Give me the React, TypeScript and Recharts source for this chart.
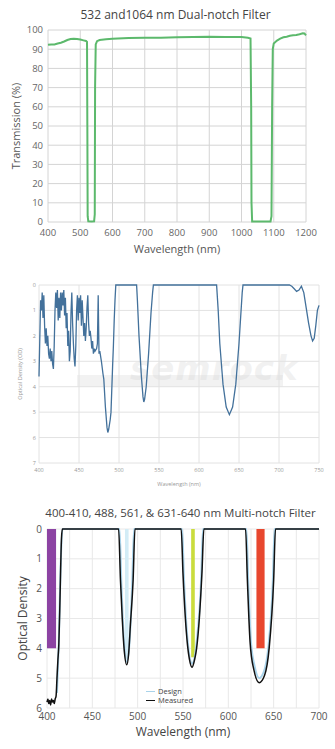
import React from 'react';
import { LineChart, Line, XAxis, YAxis, CartesianGrid, ReferenceArea, Legend } from 'recharts';

const FONT = '"Open Sans", "DejaVu Sans", Arial, sans-serif';

// ---------- Chart 1: 532 and 1064 nm dual-notch filter ----------
const dualWavelength = [400, 410, 420, 430, 440, 450, 460, 470, 480, 490, 500, 510, 518, 521, 522, 523, 525, 535, 543, 545, 546, 548, 552, 560, 580, 600, 650, 700, 750, 800, 850, 900, 950, 1000, 1020, 1028, 1030, 1031, 1033, 1060, 1090, 1093, 1095, 1097, 1100, 1110, 1120, 1130, 1140, 1150, 1160, 1170, 1180, 1190, 1195, 1200];
const dualTransmission = [92.3, 92.5, 92.5, 93.0, 93.4, 94.0, 94.8, 95.3, 95.5, 95.3, 95.0, 94.6, 94.3, 93.8, 50, 3, 0.3, 0.2, 0.3, 4, 70, 92.5, 94.2, 94.8, 95.2, 95.5, 95.8, 96.0, 95.9, 96.2, 96.3, 96.5, 96.4, 96.3, 96.0, 95.6, 60, 10, 0.3, 0.2, 0.3, 3, 60, 90, 93, 94.5, 95.5, 96.2, 96.5, 97.0, 97.3, 97.4, 97.8, 98.3, 98.2, 97.2];
const dualXTicks = [400, 500, 600, 700, 800, 900, 1000, 1100, 1200];
const dualYTicks = [0, 10, 20, 30, 40, 50, 60, 70, 80, 90, 100];

// ---------- Chart 2: optical density spectrum ----------
const odWavelength = [400, 401, 402, 403, 404, 405, 406, 407, 408, 409, 410, 411, 412, 413, 414, 415, 416, 417, 418, 419, 420, 421, 422, 423, 424, 425, 426, 427, 428, 429, 430, 431, 432, 433, 434, 435, 436, 437, 438, 439, 440, 441, 442, 443, 444, 445, 446, 447, 448, 449, 450, 451, 452, 453, 454, 455, 456, 457, 458, 459, 460, 461, 462, 463, 464, 465, 466, 467, 468, 469, 470, 472, 473, 474, 475, 476, 478, 480, 481, 483, 485, 486, 487, 489, 490, 492, 493, 494, 495, 496, 522, 523, 525, 528, 530, 531, 532, 534, 537, 540, 542, 543, 622, 624, 626, 630, 634, 638, 642, 646, 650, 652, 654, 655, 713, 716, 719, 722, 725, 728, 731, 734, 737, 740, 742, 744, 746, 748, 750];
const odValues = [3.6, 2.1, 0.6, 1.0, 0.3, 1.3, 0.4, 1.6, 2.3, 1.7, 2.4, 2.0, 2.7, 2.9, 2.5, 3.0, 2.6, 3.1, 3.3, 2.4, 1.0, 0.3, 0.9, 0.2, 1.4, 0.5, 1.3, 0.3, 1.0, 0.3, 0.8, 0.2, 1.2, 0.5, 1.7, 1.1, 2.4, 1.8, 3.0, 2.6, 1.1, 0.3, 1.5, 2.3, 2.9, 3.2, 2.4, 1.0, 0.4, 1.4, 0.5, 1.1, 0.4, 1.6, 0.6, 1.3, 2.0, 1.5, 2.2, 1.7, 0.9, 0.4, 1.5, 2.0, 1.8, 2.1, 2.5, 2.2, 2.7, 2.5, 2.6, 2.5, 2.3, 0.4, 2.7, 2.6, 3.0, 3.5, 3.7, 4.8, 5.6, 5.8, 5.7, 5.3, 5.0, 3.2, 2.4, 1.4, 0.6, 0, 0, 0.6, 2.0, 3.6, 4.4, 4.6, 4.5, 4.0, 2.7, 1.1, 0.3, 0, 0, 1.0, 2.3, 3.9, 4.8, 5.1, 4.8, 3.9, 2.3, 1.3, 0.3, 0, 0, 0.05, 0.15, 0.25, 0.2, 0.05, 0.3, 0.9, 1.5, 2.0, 2.2, 2.1, 1.6, 1.0, 0.8];
const odXTicks = [400, 450, 500, 550, 600, 650, 700, 750];
const odYTicks = [0, 1, 2, 3, 4, 5, 6, 7];

// ---------- Chart 3: multi-notch filter ----------
const mnMeasuredWl = [400, 401, 402, 403, 404, 405, 406, 407, 408, 409, 410, 411, 412, 413, 414, 415, 416, 417, 479, 481, 483, 485, 488, 490, 492, 495, 497, 548, 550, 555, 557, 560, 563, 565, 568, 571, 573, 619, 621, 624, 628, 634, 640, 645, 650, 652, 700];
const mnMeasuredOd = [5.8, 5.7, 5.85, 5.75, 5.9, 5.7, 5.8, 5.75, 5.85, 5.7, 5.6, 5.0, 4.4, 3.9, 2.8, 1.4, 0.3, 0, 0, 1.7, 3.0, 4.0, 4.55, 4.2, 3.2, 1.7, 0, 0, 1.5, 3.9, 4.35, 4.63, 4.35, 4.0, 3.0, 1.4, 0, 0, 1.7, 3.8, 4.7, 5.15, 4.9, 4.0, 1.7, 0, 0];
const mnDesignWl = [411, 413, 415, 417, 480, 482, 485, 488, 491, 494, 496, 549, 551, 555, 560, 565, 570, 572, 620, 622, 625, 629, 634, 639, 644, 649, 651, 700];
const mnDesignOd = [5.5, 3.8, 1.3, 0, 0, 1.8, 3.8, 4.45, 3.8, 1.8, 0, 0, 1.6, 3.7, 4.5, 3.8, 1.7, 0, 0, 1.8, 3.8, 4.6, 5.0, 4.8, 4.0, 1.8, 0, 0];
const mnXTicks = [400, 425, 450, 475, 500, 525, 550, 575, 600, 625, 650, 675, 700];
const mnYTicks = [0, 1, 2, 3, 4, 5, 6];
const laserStart = [400, 486, 559, 631];
const laserEnd = [410, 490, 563, 640];
const laserOd = [4, 4.35, 4.3, 4];
const laserColors = ['#8c43a3', '#d3ecf6', '#cadc3c', '#e8472e'];

const dualData = dualWavelength.map((nm, i) => ({ nm, t: dualTransmission[i] }));
const odData = odWavelength.map((nm, i) => ({ nm, od: odValues[i] }));
const mnMeasured = mnMeasuredWl.map((nm, i) => ({ nm, od: mnMeasuredOd[i] }));
const mnDesign = mnDesignWl.map((nm, i) => ({ nm, od: mnDesignOd[i] }));

const yTitle = (text: string, offX: number, fontSize: number, color: string) => (props: any) => {
  const vb = props.viewBox || {};
  const x = vb.x + offX;
  const y = vb.y + vb.height / 2;
  return (
    <text x={x} y={y} transform={`rotate(-90, ${x}, ${y})`} textAnchor="middle" dominantBaseline="central"
      fontSize={fontSize} fill={color} fontFamily={FONT}>{text}</text>
  );
};

const xTitle = (text: string, offY: number, fontSize: number, color: string) => (props: any) => {
  const vb = props.viewBox || {};
  const x = vb.x + vb.width / 2;
  const y = vb.y + offY;
  return (
    <text x={x} y={y} textAnchor="middle" dominantBaseline="central" fontSize={fontSize} fill={color} fontFamily={FONT}>{text}</text>
  );
};

const legendContent = (props: any) => {
  const payload = props.payload || [];
  return (
    <div style={{ fontFamily: FONT, fontSize: 7.5, lineHeight: '9px', color: '#444' }}>
      {payload.map((p: any) => (
        <div key={p.value} style={{ display: 'flex', alignItems: 'center', height: 9 }}>
          <span style={{ display: 'inline-block', width: 9, height: 0, borderTop: `1.5px solid ${p.color}`, marginRight: 3 }} />
          <span>{p.value}</span>
        </div>
      ))}
    </div>
  );
};

export default function App() {
  return (
    <div style={{ position: 'absolute', left: 0, top: 0, width: 335, height: 749, background: '#fff', overflow: 'hidden', fontFamily: FONT }}>
      {/* Chart 1 */}
      <div style={{ position: 'absolute', left: 8, top: 7, width: 335, textAlign: 'center', fontSize: 12, lineHeight: '16px', color: '#444' }}>
        532 and1064 nm Dual-notch Filter
      </div>
      <div style={{ position: 'absolute', left: 0, top: 0 }}>
        <LineChart width={335} height={260} data={dualData} margin={{ top: 30, right: 29, bottom: 0, left: 0 }}>
          <CartesianGrid stroke="#d4d4d4" strokeWidth={1} />
          <XAxis dataKey="nm" type="number" domain={[400, 1200]} ticks={dualXTicks} interval={0}
            tickSize={0} tickMargin={7} axisLine={false} height={38}
            tick={{ fontSize: 9.5, fill: '#666', fontFamily: FONT }}
            label={xTitle('Wavelength (nm)', 26, 11, '#555')} />
          <YAxis type="number" domain={[0, 100]} ticks={dualYTicks} interval={0} width={48}
            tickSize={0} tickMargin={5} axisLine={false}
            tick={{ fontSize: 9.5, fill: '#666', fontFamily: FONT }}
            label={yTitle('Transmission (%)', 15, 11, '#555')} />
          <Line dataKey="t" type="linear" stroke="#5cb96c" strokeWidth={2} dot={false} isAnimationActive={false} />
        </LineChart>
      </div>

      {/* Chart 2 watermark */}
      <div style={{ position: 'absolute', left: 77, top: 375, width: 206, height: 12, background: 'rgba(222,222,222,0.4)' }} />
      <div style={{ position: 'absolute', left: 130, top: 348, fontSize: 34, fontStyle: 'italic', fontWeight: 700, color: 'rgba(215,215,215,0.35)', fontFamily: '"DejaVu Sans", sans-serif', letterSpacing: 1 }}>
        semrock
      </div>
      {/* Chart 2 */}
      <div style={{ position: 'absolute', left: 0, top: 265 }}>
        <LineChart width={335} height={225} data={odData} margin={{ top: 20, right: 16, bottom: 0, left: 0 }}>
          <CartesianGrid stroke="#e2e2e2" strokeWidth={1} />
          <XAxis dataKey="nm" type="number" domain={[400, 750]} ticks={odXTicks} interval={0}
            tickSize={0} tickMargin={5} axisLine={false} height={27}
            tick={{ fontSize: 5.5, fill: '#999', fontFamily: FONT }}
            label={xTitle('Wavelength (nm)', 21, 5.5, '#999')} />
          <YAxis type="number" domain={[0, 7]} reversed ticks={odYTicks} interval={0} width={39}
            tickSize={0} tickMargin={3} axisLine={false}
            tick={{ fontSize: 5.5, fill: '#999', fontFamily: FONT }}
            label={yTitle('Optical Density (OD)', 20, 5.5, '#999')} />
          <Line dataKey="od" type="linear" stroke="#43719b" strokeWidth={1.3} dot={false} isAnimationActive={false} />
        </LineChart>
      </div>

      {/* Chart 3 */}
      <div style={{ position: 'absolute', left: 13, top: 506, width: 335, textAlign: 'center', fontSize: 11.5, lineHeight: '14px', color: '#444' }}>
        400-410, 488, 561, &amp; 631-640 nm Multi-notch Filter
      </div>
      <div style={{ position: 'absolute', left: 0, top: 495 }}>
        <LineChart width={335} height={254} margin={{ top: 34, right: 16, bottom: 0, left: 0 }}>
          <CartesianGrid stroke="#e8e8e8" strokeWidth={1} />
          <XAxis dataKey="nm" type="number" domain={[400, 700]} ticks={mnXTicks} interval={0}
            tickFormatter={(v: number) => (v % 50 === 0 ? String(v) : '')}
            tickSize={0} tickMargin={5} axisLine={false} height={41}
            tick={{ fontSize: 10, fill: '#555', fontFamily: FONT }}
            label={xTitle('Wavelength (nm)', 23, 12, '#444')} />
          <YAxis type="number" domain={[0, 6]} reversed ticks={mnYTicks} interval={0} width={47}
            tickSize={0} tickMargin={5} axisLine={false}
            tick={{ fontSize: 10, fill: '#555', fontFamily: FONT }}
            label={yTitle('Optical Density', 22, 12, '#444')} />
          {laserStart.map((x1, i) => (
            <ReferenceArea key={i} x1={x1} x2={laserEnd[i]} y1={0} y2={laserOd[i]} fill={laserColors[i]} fillOpacity={1} stroke="none" />
          ))}
          <Line data={mnDesign} dataKey="od" name="Design" type="monotone" stroke="#a9d3ea" strokeWidth={2} dot={false} isAnimationActive={false} />
          <Line data={mnMeasured} dataKey="od" name="Measured" type="monotone" stroke="#111" strokeWidth={1.5} dot={false} isAnimationActive={false} />
          <Legend layout="vertical" align="center" verticalAlign="middle" content={legendContent}
            wrapperStyle={{ left: 146, top: 192, width: 'auto', height: 'auto', bottom: 'auto', right: 'auto' }} />
        </LineChart>
      </div>
    </div>
  );
}
